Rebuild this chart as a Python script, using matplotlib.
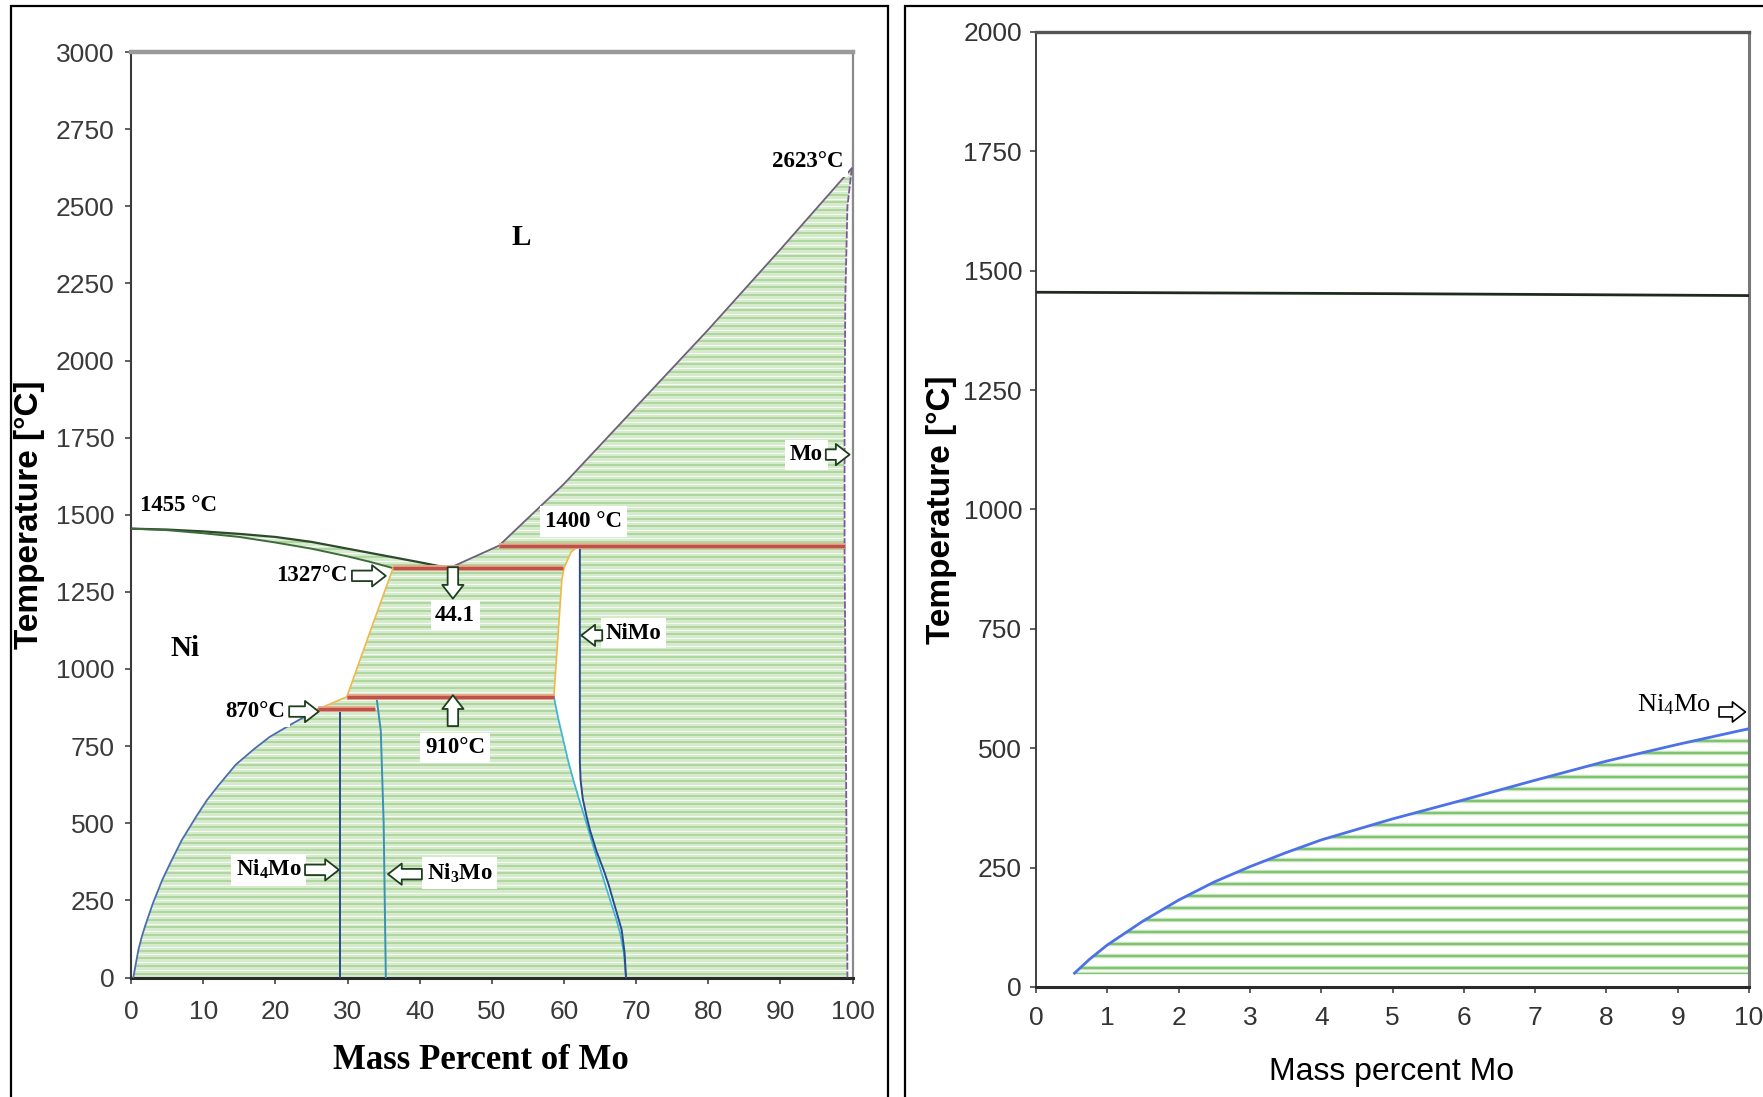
import numpy as np
import matplotlib
matplotlib.use("Agg")
import matplotlib.pyplot as plt
from matplotlib.patches import Polygon, Rectangle

plt.rcParams['mathtext.default'] = 'regular'

# ---------------- data: left panel (Ni-Mo phase diagram) ----------------
liq_ni_x = [0, 5, 10, 15, 20, 25, 30, 35, 40, 44.1]
liq_ni_T = [1455, 1452, 1446, 1438, 1428, 1412, 1390, 1368, 1346, 1327]
sol_ni_x = [0, 5, 10, 15, 20, 25, 30, 33, 36.3]
sol_ni_T = [1455, 1450, 1440, 1428, 1410, 1390, 1365, 1348, 1327]
liq_mo_x = [44.1, 51, 60, 70, 80, 90, 99.9]
liq_mo_T = [1327, 1400, 1600, 1850, 2100, 2360, 2623]
mo_x = [99.9, 99.3, 99.0, 98.9, 98.9, 99.1, 99.3]
mo_T = [2623, 2500, 2200, 1800, 1400, 700, 0]
solv_ni_x = [0.3, 0.6, 1, 1.5, 2, 3, 4.3, 5.5, 7, 9.1, 10.5, 12, 14.5, 17, 19.2, 22.5, 25.9]
solv_ni_T = [0, 40, 90, 135, 172, 240, 316, 375, 445, 525, 575, 620, 690, 740, 780, 825, 870]
bnd_l_x = [25.9, 29.9, 33.1, 36.3]
bnd_l_T = [870, 910, 1120, 1327]
bnd_r_x = [58.6, 59.7, 60.0, 61.0, 62.2]
bnd_r_T = [910, 1289, 1327, 1380, 1400]
cyan_x = [58.6, 59.2, 59.9, 60.6, 61.3, 62.0, 62.7, 63.6, 64.5, 65.5, 66.4, 67.2, 67.8, 68.3, 68.6]
cyan_T = [910, 840, 770, 700, 640, 585, 532, 462, 392, 318, 251, 193, 143, 80, 0]
nimo_x = [62.2, 62.2, 62.3, 62.6, 63.1, 63.6, 64.5, 65.5, 66.2, 66.8, 67.5, 68.0, 68.4, 68.6]
nimo_T = [1400, 700, 640, 580, 525, 478, 410, 348, 300, 251, 195, 154, 80, 0]
ni4mo_x = [29.0, 29.0]
ni4mo_T = [870, 0]
ni3mo_x = [34.0, 34.6, 35.0, 35.3]
ni3mo_T = [910, 800, 500, 0]
iso_T = [1400, 1327, 910, 870]
iso_x0 = [51, 36.3, 29.9, 25.9]
iso_x1 = [98.9, 59.9, 58.6, 33.8]
left_xticks = list(range(0, 101, 10))
left_yticks = list(range(0, 3001, 250))

# ---------------- data: right panel (Ni-rich detail) ----------------
r_liq_x = [0, 5, 10]
r_liq_T = [1455, 1452, 1448]
r_solv_x = [0.54, 0.75, 1, 1.5, 2, 2.5, 3, 3.5, 4, 5, 6, 7, 8, 9, 10]
r_solv_T = [29, 58, 88, 138, 182, 220, 252, 281, 308, 352, 392, 433, 473, 508, 541]
right_xticks = list(range(0, 11))
right_yticks = list(range(0, 2001, 250))

W, H = 1763, 1097
fig = plt.figure(figsize=(W / 100, H / 100), dpi=100)
fig.patch.set_facecolor('white')

# frames around the two panels
fig.add_artist(Rectangle((11 / W, -0.01), (888 - 11) / W, 1 - 6 / H + 0.01,
                         transform=fig.transFigure, fill=False, ec='black', lw=1.6))
fig.add_artist(Rectangle((905 / W, -0.01), (1763 - 905) / W + 0.01, 1 - 6 / H + 0.01,
                         transform=fig.transFigure, fill=False, ec='black', lw=1.6))

sans = ['Liberation Sans Narrow', 'Liberation Sans', 'DejaVu Sans']
serif = ['Liberation Serif', 'DejaVu Serif']

# =========================== LEFT PANEL ===========================
axL = fig.add_axes([131.2 / W, 1 - 977.5 / H, (852.5 - 131.2) / W, (977.5 - 52) / H])
axL.set_xlim(0, 100)
axL.set_ylim(0, 3000)
axL.set_facecolor('#d5ebcb')

stripes = np.arange(12.5, 3000, 25)
axL.hlines(stripes, 0, 100, color='#acd49b', lw=1.3, zorder=1)
axL.hlines(stripes + 12.5, 0, 100, color='#f4faf1', lw=0.8, zorder=1)

# white single-phase regions
L_poly = list(zip(liq_ni_x, liq_ni_T)) + list(zip(liq_mo_x[1:], liq_mo_T[1:])) + [(100, 3000), (0, 3000)]
Ni_poly = [(0, 0)] + list(zip(solv_ni_x, solv_ni_T)) + list(zip(bnd_l_x[1:], bnd_l_T[1:])) + \
    list(zip(sol_ni_x[::-1], sol_ni_T[::-1]))
NiMo_poly = list(zip(cyan_x, cyan_T)) + list(zip(nimo_x[::-1], nimo_T[::-1])) + \
    list(zip(bnd_r_x[-2::-1], bnd_r_T[-2::-1]))
Mo_poly = list(zip(mo_x, mo_T)) + [(100, 0)]
for poly in (L_poly, Ni_poly, NiMo_poly, Mo_poly):
    axL.add_patch(Polygon(poly, closed=True, fc='white', ec='none', zorder=2))

# boundaries
axL.plot(liq_ni_x, liq_ni_T, color='#2d4a2d', lw=1.6, zorder=4)
axL.plot(sol_ni_x, sol_ni_T, color='#3d6b3a', lw=1.4, zorder=4)
axL.plot(liq_mo_x, liq_mo_T, color='#6e5f7c', lw=1.3, zorder=4)
axL.plot(mo_x, mo_T, color='#7b5a99', lw=1.3, ls=(0, (4, 1)), zorder=4)
axL.plot(solv_ni_x, solv_ni_T, color='#4a6db3', lw=1.3, zorder=4)
axL.plot(bnd_l_x, bnd_l_T, color='#f0b84a', lw=1.2, zorder=4)
axL.plot(bnd_r_x, bnd_r_T, color='#f0b84a', lw=1.2, zorder=4)
axL.plot(cyan_x, cyan_T, color='#45b5d6', lw=1.3, zorder=4)
axL.plot(nimo_x, nimo_T, color='#2b4a8c', lw=1.4, zorder=4)
axL.plot(ni4mo_x, ni4mo_T, color='#2b4a8c', lw=1.4, zorder=4)
axL.plot(ni3mo_x, ni3mo_T, color='#3a90b5', lw=1.4, zorder=4)
axL.hlines(iso_T, iso_x0, iso_x1, color='#e9a98a', lw=4.2, zorder=5)
axL.hlines(iso_T, iso_x0, iso_x1, color='#c0504a', lw=2.4, zorder=5)

# spines / ticks
for side, c, w in (('left', '#3a3a3a', 1.5), ('bottom', '#2a2a2a', 2.2),
                   ('top', '#9a9a9a', 3.2), ('right', '#8a8a8a', 1.6)):
    axL.spines[side].set_color(c)
    axL.spines[side].set_linewidth(w)
axL.set_xticks(left_xticks)
axL.set_yticks(left_yticks)
axL.tick_params(direction='out', length=4, width=1.2, color='#444444', labelcolor='#3a3a3a',
                labelsize=19)
axL.tick_params(axis='x', pad=12)
axL.tick_params(axis='y', pad=8)
for lab in axL.get_xticklabels() + axL.get_yticklabels():
    lab.set_family(sans)
axL.set_ylabel('Temperature [°C]', fontsize=24, fontweight='bold', family=['Liberation Sans', 'DejaVu Sans'])
axL.yaxis.set_label_coords(-0.1195, 0.5)
axL.set_xlabel('Mass Percent of Mo', fontsize=25, fontweight='bold', family=serif)
axL.xaxis.set_label_coords(0.485, -0.072)

box = dict(boxstyle='square,pad=0.2', fc='white', ec='none')
tkw = dict(fontsize=16.5, fontweight='bold', family=serif, zorder=7, va='center')


def block_arrow(ax, tail, tip, scale=18):
    ax.annotate('', xy=tip, xytext=tail, zorder=8,
                arrowprops=dict(arrowstyle='simple,head_length=0.55,head_width=0.85,tail_width=0.42',
                                fc='white', ec='#1f3d1f', lw=1.3, shrinkA=0, shrinkB=0,
                                mutation_scale=scale))


axL.text(54, 2400, 'L', ha='center', fontsize=21, fontweight='bold', family=serif, zorder=7, va='center')
axL.text(7.5, 1065, 'Ni', ha='center', fontsize=21, fontweight='bold', family=serif, zorder=7, va='center')
axL.text(1.2, 1530, '1455 °C', ha='left', bbox=box, **tkw)
axL.text(62.7, 1478, '1400 °C', ha='center', bbox=box, **tkw)
axL.text(98.8, 2645, '2623°C', ha='right', bbox=box, **tkw)
axL.text(30.0, 1302, '1327°C', ha='right', bbox=box, **tkw)
block_arrow(axL, (30.6, 1302), (35.3, 1302))
axL.text(44.9, 1175, '44.1', ha='center', bbox=box, **tkw)
block_arrow(axL, (44.6, 1330), (44.6, 1228))
axL.text(44.9, 745, '910°C', ha='center', bbox=box, **tkw)
block_arrow(axL, (44.6, 815), (44.6, 915))
axL.text(21.4, 862, '870°C', ha='right', bbox=box, **tkw)
block_arrow(axL, (21.9, 862), (26.0, 862))
axL.text(23.6, 349, 'Ni$_4$Mo', ha='right', bbox=box, **tkw)
block_arrow(axL, (24.1, 349), (28.8, 349))
axL.text(41.0, 338, 'Ni$_3$Mo', ha='left', bbox=box, **tkw)
block_arrow(axL, (40.3, 335), (35.6, 335))
axL.text(65.8, 1116, 'NiMo', ha='left', bbox=box, **tkw)
block_arrow(axL, (65.3, 1109), (62.4, 1109))
axL.text(95.9, 1695, 'Mo', ha='right', bbox=box, **tkw)
block_arrow(axL, (96.3, 1695), (99.6, 1695))

# =========================== RIGHT PANEL ===========================
axR = fig.add_axes([1036 / W, 1 - 987 / H, (1749 - 1036) / W, (987 - 32) / H])
axR.set_xlim(0, 10)
axR.set_ylim(0, 2000)

region = Polygon(list(zip(r_solv_x, r_solv_T)) + [(10, 27), (r_solv_x[0], 27)],
                 closed=True, fc='none', ec='none')
axR.add_patch(region)
r_stripes = np.concatenate([[28], np.arange(40, 600, 25)])
s1 = axR.hlines(r_stripes, 0, 10, color='#c6e4bc', lw=3.2, zorder=1)
s2 = axR.hlines(r_stripes, 0, 10, color='#73bd62', lw=1.2, zorder=1)
s1.set_clip_path(region)
s2.set_clip_path(region)

axR.plot(r_liq_x, r_liq_T, color='#1f2a1f', lw=2.0, zorder=3)
axR.plot(r_solv_x, r_solv_T, color='#4d72e8', lw=2.0, zorder=3)

for side, c, w in (('left', '#333333', 1.3), ('bottom', '#2a2a2a', 2.2),
                   ('top', '#555555', 2.4), ('right', '#777777', 2.2)):
    axR.spines[side].set_color(c)
    axR.spines[side].set_linewidth(w)
axR.set_xticks(right_xticks)
axR.set_yticks(right_yticks)
axR.tick_params(direction='out', length=4, width=1.2, color='#444444', labelcolor='#333333',
                labelsize=19)
axR.tick_params(axis='x', pad=10)
axR.tick_params(axis='y', pad=6)
for lab in axR.get_xticklabels() + axR.get_yticklabels():
    lab.set_family(sans)
axR.set_ylabel('Temperature [°C]', fontsize=24, fontweight='bold', family=['Liberation Sans', 'DejaVu Sans'])
axR.yaxis.set_label_coords(-0.111, 0.5)
axR.set_xlabel('Mass percent Mo', fontsize=23, family=sans)
axR.xaxis.set_label_coords(0.498, -0.0733)

axR.text(9.47, 592, 'Ni$_4$Mo', ha='right', va='center', fontsize=19, family=serif, zorder=6)
axR.annotate('', xy=(9.95, 576), xytext=(9.58, 576), zorder=6,
             arrowprops=dict(arrowstyle='simple,head_length=0.55,head_width=0.85,tail_width=0.42',
                             fc='white', ec='black', lw=1.2, shrinkA=0, shrinkB=0,
                             mutation_scale=17), annotation_clip=False)

fig.savefig('out.png', dpi=100)
